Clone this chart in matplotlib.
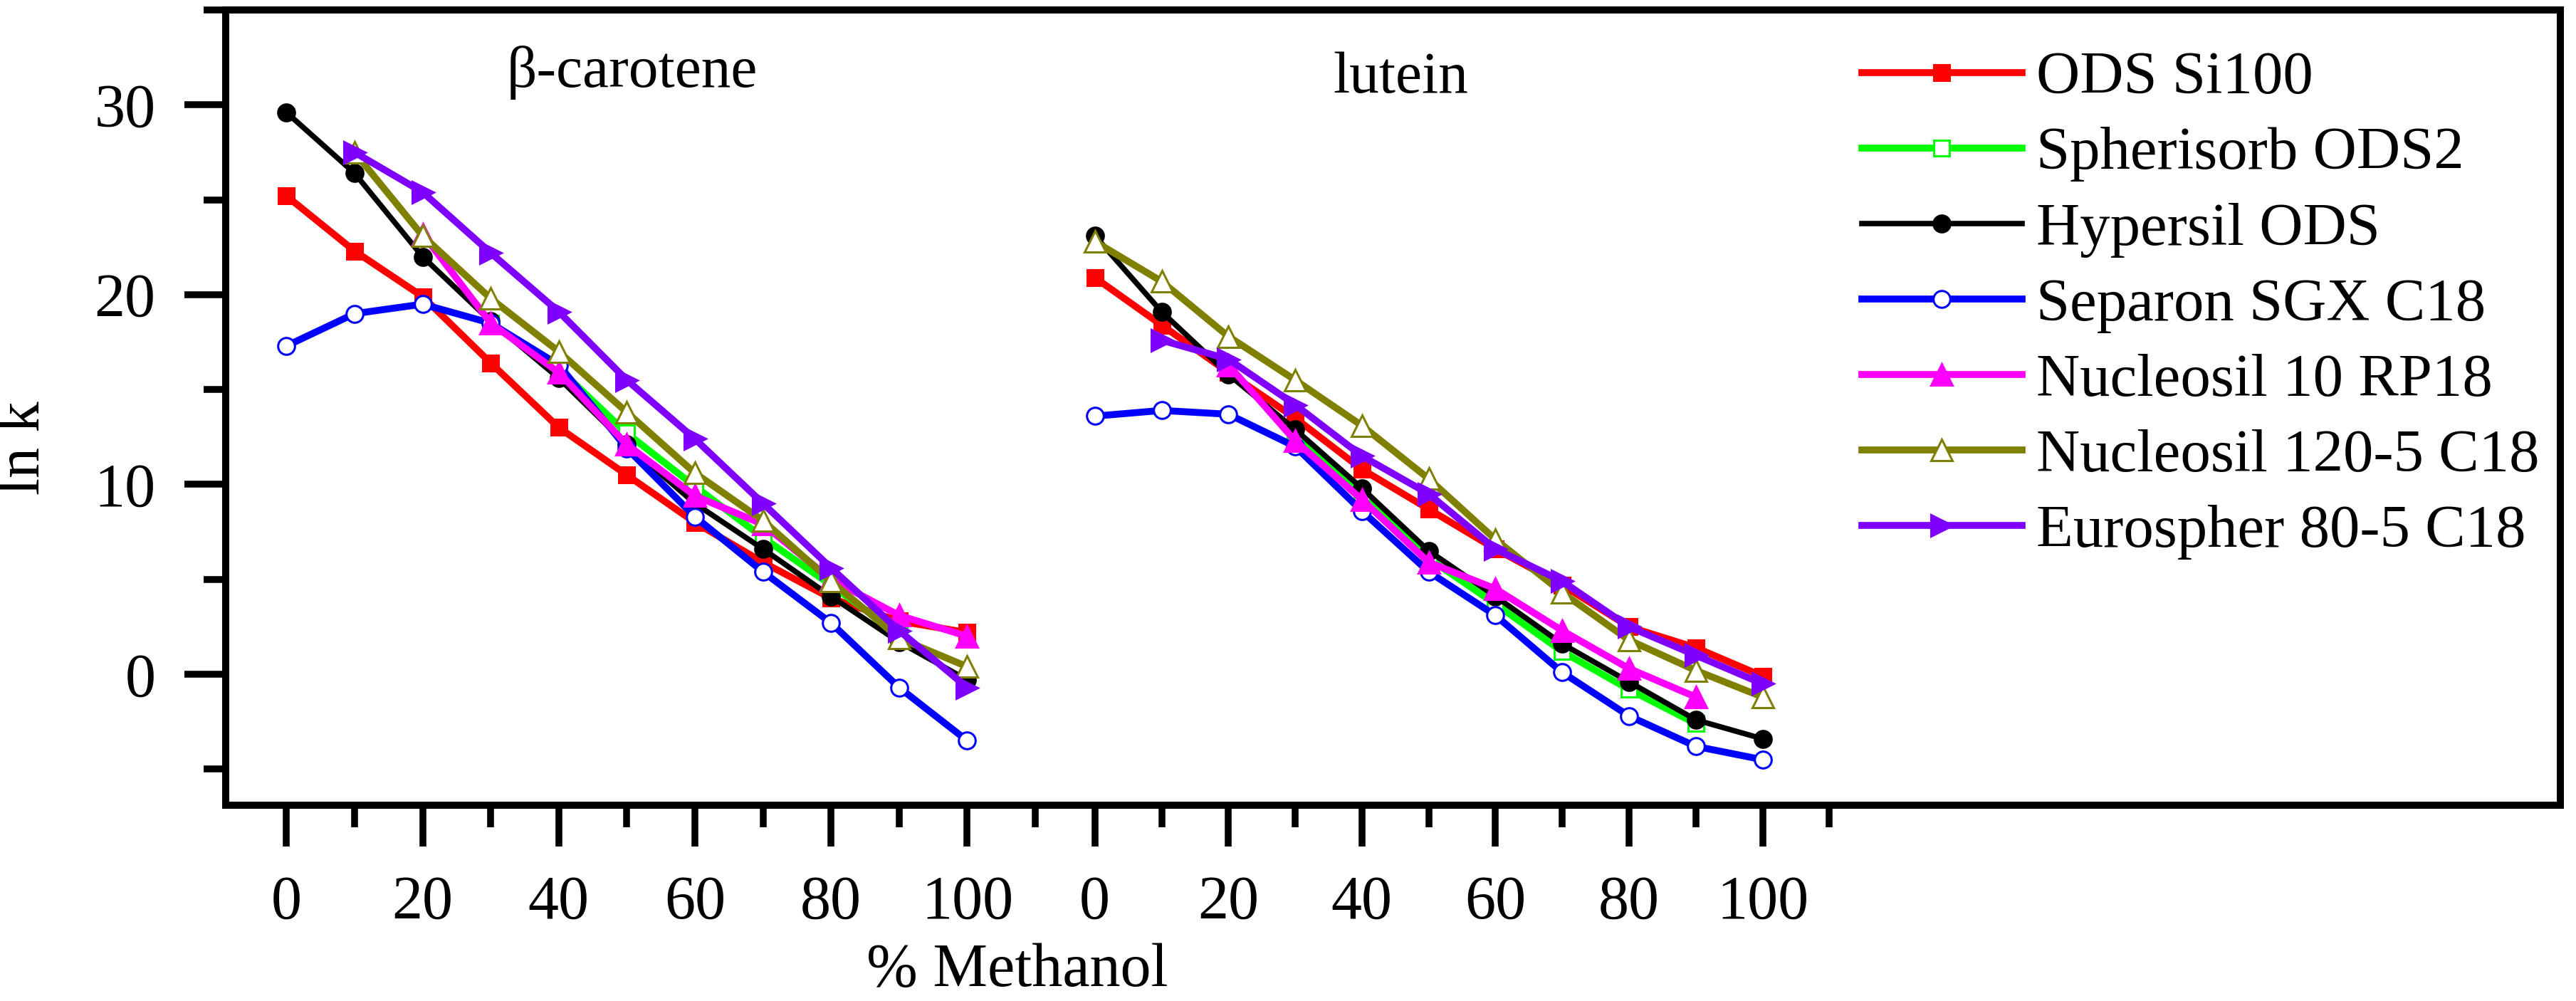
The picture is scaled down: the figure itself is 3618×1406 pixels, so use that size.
import numpy as np
import matplotlib
matplotlib.use("Agg")
import matplotlib.pyplot as plt
from matplotlib.ticker import MultipleLocator, FixedLocator

plt.rcParams["font.family"] = ["Liberation Serif", "DejaVu Serif"]

# % methanol
pct = [0, 10, 20, 30, 40, 50, 60, 70, 80, 90, 100]

# ln k values, beta-carotene group
bc_ods_si100 = [25.2, 22.3, 19.9, 16.4, 13.0, 10.5, 8.0, 5.9, 4.0, 2.8, 2.2]
bc_spherisorb_x = [30, 40, 50, 60, 70, 80, 90]
bc_spherisorb = [18.5, 16.1, 12.7, 9.9, 7.2, 4.7, 2.1]
bc_hypersil = [29.6, 26.4, 22.0, 18.6, 15.6, 12.1, 9.0, 6.6, 4.1, 1.7, -0.3]
bc_separon = [17.3, 19.0, 19.5, 18.5, 16.3, 11.9, 8.3, 5.4, 2.7, -0.7, -3.5]
bc_nuc10_x = [20, 30, 40, 50, 60, 70, 80, 90, 100]
bc_nuc10 = [23.2, 18.5, 15.9, 12.1, 9.4, 7.9, 5.0, 3.1, 2.0]
bc_nuc120_x = [10, 20, 30, 40, 50, 60, 70, 80, 90, 100]
bc_nuc120 = [27.5, 23.1, 19.8, 17.0, 13.8, 10.6, 8.1, 4.9, 1.9, 0.4]
bc_euro_x = [10, 20, 30, 40, 50, 60, 70, 80, 90, 100]
bc_euro = [27.5, 25.4, 22.2, 19.1, 15.5, 12.4, 9.0, 5.6, 2.3, -0.7]

# ln k values, lutein group
lu_ods_si100 = [20.9, 18.4, 15.9, 13.5, 10.8, 8.7, 6.6, 4.7, 2.5, 1.4, -0.1]
lu_spherisorb_x = [30, 40, 50, 60, 70, 80, 90]
lu_spherisorb = [12.5, 9.4, 6.1, 3.7, 1.2, -0.8, -2.6]
lu_hypersil = [23.1, 19.1, 15.8, 12.9, 9.8, 6.5, 4.1, 1.6, -0.4, -2.4, -3.4]
lu_separon = [13.6, 13.9, 13.7, 12.0, 8.6, 5.4, 3.1, 0.1, -2.2, -3.8, -4.5]
lu_nuc10_x = [20, 30, 40, 50, 60, 70, 80, 90]
lu_nuc10 = [16.3, 12.3, 9.2, 5.9, 4.5, 2.3, 0.3, -1.2]
lu_nuc120 = [22.8, 20.7, 17.8, 15.5, 13.1, 10.3, 7.1, 4.3, 1.8, 0.2, -1.2]
lu_euro_x = [10, 20, 30, 40, 50, 60, 70, 80, 90, 100]
lu_euro = [17.6, 16.6, 14.2, 11.5, 9.5, 6.6, 4.9, 2.5, 1.0, -0.5]

labels = ["ODS Si100", "Spherisorb ODS2", "Hypersil ODS", "Separon SGX C18",
          "Nucleosil 10 RP18", "Nucleosil 120-5 C18", "Eurospher 80-5 C18"]

styles = [
    dict(color="#ff0000", marker="s", ms=16, lw=7),
    dict(color="#00ff00", marker="s", ms=16, lw=7, mfc="white"),
    dict(color="black", marker="o", ms=17, lw=5.5),
    dict(color="#0000ff", marker="o", ms=17, lw=7, mfc="white"),
    dict(color="#ff00ff", marker="^", ms=21, lw=7),
    dict(color="#808000", marker="^", ms=21, lw=7, mfc="white"),
    dict(color="#8000ff", marker=">", ms=21, lw=7),
]

bc_series = [(pct, bc_ods_si100), (bc_spherisorb_x, bc_spherisorb), (pct, bc_hypersil),
             (pct, bc_separon), (bc_nuc10_x, bc_nuc10), (bc_nuc120_x, bc_nuc120),
             (bc_euro_x, bc_euro)]
lu_series = [(pct, lu_ods_si100), (lu_spherisorb_x, lu_spherisorb), (pct, lu_hypersil),
             (pct, lu_separon), (lu_nuc10_x, lu_nuc10), (pct, lu_nuc120),
             (lu_euro_x, lu_euro)]

W, H = 3618, 1406
fig = plt.figure(figsize=(W / 100, H / 100), dpi=100)
left, right, top, bottom = 317, 3596, 14, 1131
rect = [left / W, 1 - bottom / H, (right - left) / W, (bottom - top) / H]

ax = fig.add_axes(rect)
ax2 = fig.add_axes(rect, sharey=ax)
ax2.patch.set_visible(False)
for s in ax2.spines.values():
    s.set_visible(False)

for (x, y), lab, st in zip(bc_series, labels, styles):
    ax.plot(x, y, label=lab, mew=2.2, **st)
for (x, y), st in zip(lu_series, styles):
    ax2.plot(x, y, mew=2.2, **st)

ax.set_ylim(-6.9, 35)
ax.set_xlim(-8.93, 334.03)
ax2.set_xlim(-130.17, 219.48)

for s in ax.spines.values():
    s.set_linewidth(7.2)

tick_kw = dict(direction="out", width=6.9, labelsize=62, pad=29)
for a in (ax, ax2):
    a.xaxis.set_major_locator(FixedLocator([0, 20, 40, 60, 80, 100]))
    a.xaxis.set_minor_locator(FixedLocator([10, 30, 50, 70, 90, 110]))
    a.tick_params(axis="x", which="major", length=42, **tick_kw)
    a.tick_params(axis="x", which="minor", length=22, width=6.9, direction="out")
ax.yaxis.set_major_locator(MultipleLocator(10))
ax.yaxis.set_minor_locator(MultipleLocator(5))
ax.tick_params(axis="y", which="major", length=42, **tick_kw)
ax.tick_params(axis="y", which="minor", length=22, width=6.9, direction="out")
ax2.tick_params(axis="y", which="both", left=False, labelleft=False)

fig.text(887.6 / W, 1 - 122 / H, "β-carotene", fontsize=60, ha="center", va="baseline")
fig.text(1967 / W, 1 - 130 / H, "lutein", fontsize=60, ha="center", va="baseline")
fig.text(1428.5 / W, 1 - 1404 / H, "% Methanol", fontsize=62, ha="center", va="bottom")
fig.text(34 / W, 1 - 629 / H, "ln k", fontsize=62, rotation=90, ha="center", va="center")

ax.legend(loc="upper left", bbox_to_anchor=(2615 / W, 1 - 72 / H),
          bbox_transform=fig.transFigure, frameon=False, fontsize=61,
          handlelength=2.65, handletextpad=0.24, labelspacing=0.34,
          borderpad=0, borderaxespad=0)

fig.savefig("out.png", dpi=100)
